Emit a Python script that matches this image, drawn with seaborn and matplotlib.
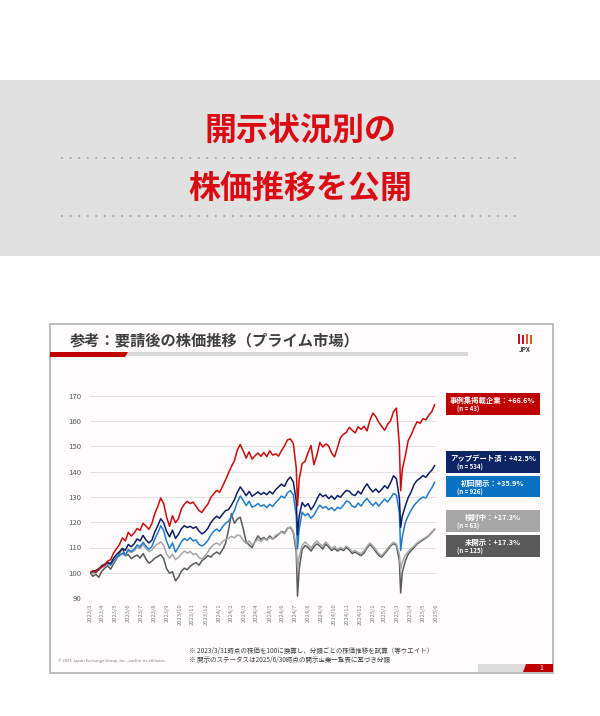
import pandas as pd
import matplotlib
matplotlib.use("Agg")
import matplotlib.pyplot as plt
from matplotlib.patches import Rectangle, Polygon
from matplotlib.lines import Line2D
import seaborn as sns

# ---------------------------------------------------------
# DATA (index: 2023/3/31 = 100, weekly + the two crash days)
# ---------------------------------------------------------
dates = pd.date_range("2023-03-31", "2025-06-27", freq="W-FRI")
dates = dates.union(pd.to_datetime(["2024-08-05", "2025-04-07"]))

jirei = [
    100.0, 100.8, 100.2, 101.5, 102.3, 103.1, 104.6, 105.2, 107.8, 109.5,
    111.2, 113.8, 112.6, 116.0, 114.5, 115.8, 117.5, 116.8, 119.6, 118.5,
    117.2, 119.5, 123.5, 126.2, 129.6, 127.4, 122.0, 118.4, 122.6, 119.8,
    121.4, 125.2, 127.1, 128.3, 127.4, 128.0, 126.3, 124.6, 123.9, 125.7,
    127.2, 129.8, 131.3, 132.6, 131.9, 134.2, 136.8, 139.5, 142.1, 144.3,
    148.6, 150.8, 148.2, 145.4, 147.9, 145.0, 146.3, 147.4, 146.1, 147.6,
    146.0, 148.3, 146.6, 147.1, 146.2, 148.4, 150.2, 152.6, 153.0, 151.2,
    141.5, 126.5, 137.0, 143.2, 144.1, 147.6, 150.4, 142.8, 146.5, 151.6,
    149.8, 151.0, 150.2, 147.4, 145.9, 149.6, 153.5, 154.8, 155.6, 157.6,
    156.4, 155.4, 157.8, 156.8, 158.0, 156.2, 160.4, 163.2, 161.8, 159.6,
    158.0, 156.4, 158.8, 160.2, 163.8, 165.2, 150.5, 132.5,
    141.0, 146.2, 152.4, 154.6, 157.4, 159.8, 159.2, 161.0, 160.6, 162.4, 163.8, 166.6,
]
update = [
    100.0, 100.6, 100.9, 101.6, 102.8, 103.4, 104.1, 103.6, 105.8, 107.2,
    108.4, 109.6, 108.9, 111.2, 110.3, 111.5, 113.4, 112.6, 114.8, 113.0,
    111.8, 112.9, 116.2, 118.6, 121.4, 119.8, 116.4, 114.2, 116.9, 113.6,
    115.2, 117.4, 118.6, 117.9, 118.4, 117.6, 118.2, 116.5, 115.4, 116.2,
    117.6, 119.8, 121.3, 122.4, 121.6, 123.2, 124.6, 125.0, 126.8, 128.9,
    131.8, 134.0, 132.4, 130.5, 132.2, 130.3, 131.1, 132.0, 131.0, 131.8,
    130.9, 132.2, 131.2, 132.9, 134.0, 135.1, 134.2, 136.6, 137.9, 136.0,
    128.5, 115.0, 122.5, 127.8, 126.2, 127.4, 125.0, 126.6, 129.1, 131.3,
    130.2, 130.8, 129.4, 130.4, 129.1, 130.6, 129.9, 131.4, 132.6, 132.3,
    131.0, 130.6, 132.3, 131.2, 133.5, 135.2, 133.4, 132.0, 133.2, 131.8,
    133.0, 134.5, 133.4, 135.6, 138.4, 137.2, 129.5, 118.0,
    122.5, 126.4, 129.8, 132.0, 135.0, 136.6, 137.4, 138.5, 137.8, 139.4, 140.6, 142.5,
]
shokai = [
    100.0, 100.4, 100.1, 101.2, 102.4, 103.0, 103.8, 103.2, 104.9, 106.2,
    106.9, 107.8, 107.0, 109.2, 108.4, 109.3, 111.0, 110.2, 112.1, 110.5,
    109.3, 110.4, 113.4, 115.8, 118.6, 116.8, 112.4, 109.6, 111.8, 108.2,
    110.0, 112.2, 113.6, 112.8, 113.9, 112.6, 113.0, 111.2, 110.6, 111.4,
    112.8, 114.9, 116.5, 117.3, 116.4, 118.2, 119.6, 120.4, 122.3, 124.6,
    128.0, 130.4, 128.6, 126.6, 128.3, 126.0, 126.5, 127.4, 126.3, 126.9,
    125.8, 127.1, 126.2, 127.8, 129.0, 130.4, 129.6, 131.6, 132.6, 130.8,
    122.6, 109.5, 117.4, 124.0, 122.6, 123.4, 121.6, 122.8, 125.0, 126.8,
    125.6, 126.2, 125.0, 125.8, 124.6, 125.9, 125.4, 126.7, 128.4, 128.0,
    126.4, 125.9, 127.6, 126.4, 128.2, 129.4, 127.8, 126.6, 127.9, 126.4,
    127.8, 129.2, 128.0, 129.6, 131.4, 130.8, 123.6, 108.8,
    114.2, 119.8, 122.6, 124.8, 126.8, 128.0, 129.2, 130.0, 129.6, 131.8, 133.6, 135.9,
]
kentou = [
    100.0, 99.6, 100.4, 101.0, 102.2, 102.6, 103.6, 102.9, 104.4, 105.8,
    106.6, 107.4, 106.8, 108.6, 108.0, 108.7, 110.2, 109.5, 111.2, 109.6,
    108.4, 109.0, 110.6, 111.4, 112.2, 110.8, 107.4, 105.8, 107.4, 105.2,
    106.0, 107.4, 108.6, 107.8, 108.4, 107.2, 107.6, 106.0, 105.4, 106.6,
    108.2, 110.0, 111.2, 111.8, 111.0, 112.4, 113.2, 113.6, 114.4, 113.8,
    115.0, 114.6, 112.8, 111.6, 112.6, 111.0, 112.2, 113.2, 112.4, 113.6,
    112.8, 114.0, 113.2, 114.8, 115.4, 116.2, 115.4, 117.4, 118.2, 116.4,
    110.6, 101.8, 106.4, 110.8, 112.2, 111.0, 109.8, 111.4, 112.6, 111.4,
    110.6, 112.2, 111.0, 109.6, 110.4, 109.2, 110.0, 109.4, 110.6, 109.6,
    108.4, 108.8, 108.0, 107.6, 108.6, 110.4, 111.8, 110.6, 109.2, 107.6,
    106.8, 108.2, 109.6, 111.0, 112.0, 111.4, 107.2, 101.4,
    104.2, 106.8, 108.4, 109.6, 110.6, 111.8, 112.6, 113.4, 114.0, 114.8, 116.2, 117.3,
]
mikaiji = [
    100.0, 98.6, 99.4, 98.2, 100.6, 101.8, 102.8, 101.4, 103.6, 105.4,
    107.8, 109.6, 106.8, 107.2, 105.6, 106.4, 107.0, 105.8, 107.6, 105.4,
    103.8, 104.6, 105.8, 106.4, 107.2, 105.6, 101.6, 99.8, 100.4, 96.8,
    98.2, 100.6, 101.8, 101.2, 102.6, 103.4, 104.0, 103.0, 104.8, 105.6,
    106.8, 106.2, 107.4, 108.2, 107.4, 109.2, 111.6, 116.8, 123.4, 119.6,
    121.2, 122.0, 117.4, 112.2, 111.0, 110.0, 112.4, 114.6, 113.2, 114.0,
    113.0, 114.6, 113.4, 114.2, 115.2, 116.4, 115.8, 117.6, 118.0, 116.0,
    108.2, 90.8, 101.6, 109.2, 110.8, 110.0, 108.6, 110.4, 111.4, 110.6,
    109.4, 111.4, 110.2, 108.8, 109.6, 108.6, 109.4, 108.8, 110.0, 109.0,
    107.6, 108.2, 107.4, 106.8, 107.8, 109.8, 111.2, 110.0, 108.4, 106.8,
    106.2, 107.6, 109.0, 110.6, 111.6, 110.8, 104.6, 92.0,
    100.2, 104.6, 107.4, 108.8, 110.0, 111.4, 112.2, 113.0, 113.8, 114.6, 116.0, 117.3,
]

groups = ["未開示", "検討中", "初回開示", "アップデート済", "事例集掲載企業"]
returns = ["+17.3%", "+17.3%", "+35.9%", "+42.5%", "+66.6%"]
counts = [125, 63, 926, 534, 43]
colors = ["#595959", "#a6a6a6", "#1f7ccc", "#0d1f66", "#cc0a0a"]
box_colors = ["#595959", "#a6a6a6", "#0a72c2", "#0e2565", "#c00000"]
series = [mikaiji, kentou, shokai, update, jirei]

for s in series:
    assert len(s) == len(dates), (len(s), len(dates))

df = pd.concat(
    [pd.DataFrame({"date": dates, "value": s, "group": g}) for g, s in zip(groups, series)],
    ignore_index=True,
)

month_ticks = pd.date_range("2023-03-31", "2025-06-30", freq="ME")
month_labels = [f"{d.year}/{d.month}" for d in month_ticks]

# ---------------------------------------------------------
# FIGURE
# ---------------------------------------------------------
sns.set_theme(style="white")
plt.rcParams["font.family"] = ["Noto Sans CJK JP", "DejaVu Sans"]

W, H = 600, 716
fig = plt.figure(figsize=(W / 100, H / 100), dpi=100)
fig.patch.set_facecolor("white")


def fx(x):
    return x / W


def fy(y):
    return 1 - y / H


def rect(x0, y0, x1, y1, **kw):
    fig.add_artist(Rectangle((fx(x0), fy(y1)), fx(x1) - fx(x0), fy(y0) - fy(y1),
                             transform=fig.transFigure, **kw))


# header banner
rect(0, 80, 600, 256, facecolor="#e1e1e1", edgecolor="none", zorder=-5)
red_title = "#dc0a14"
fig.text(0.5, fy(132), "開示状況別の", ha="center", va="center", fontsize=23,
         fontweight="bold", color=red_title)
fig.text(0.5, fy(189), "株価推移を公開", ha="center", va="center", fontsize=23,
         fontweight="bold", color=red_title)
for yy in (158, 216):
    fig.add_artist(Line2D([fx(62), fx(520)], [fy(yy), fy(yy)], transform=fig.transFigure,
                          color="#a8a8a8", lw=1.5, linestyle=(0, (0.1, 4.0)),
                          dash_capstyle="round"))

# slide frame
rect(50, 324, 553, 673, facecolor="#fefcfd", edgecolor="#bdbdbd", lw=1.4, zorder=-5)
fig.text(fx(70), fy(340), "参考：要請後の株価推移（プライム市場）", ha="left", va="center",
         fontsize=11, fontweight="bold", color="#404040")
rect(126, 352, 468, 356, facecolor="#dadada", edgecolor="none", zorder=-4)
fig.add_artist(Polygon([(fx(50), fy(352)), (fx(128), fy(352)), (fx(125), fy(357)), (fx(50), fy(357))],
                       closed=True, transform=fig.transFigure, facecolor="#c00000",
                       edgecolor="none", zorder=-3))

# JPX logo
for i, bx in enumerate([518, 522, 526, 530]):
    rect(bx, 334 + (i % 2), bx + 2.2, 344, facecolor="#c8102e" if i < 2 else "#e05a1e",
         edgecolor="none")
fig.text(fx(525), fy(350), "JPX", ha="center", va="center", fontsize=4.5,
         fontweight="bold", color="#333333")

# chart
ax = fig.add_axes([fx(90), fy(598), fx(436) - fx(90), fy(396) - fy(598)])
ax.patch.set_alpha(0)
sns.lineplot(data=df, x="date", y="value", hue="group", hue_order=groups,
             palette=colors, linewidth=1.1, legend=False, ax=ax)
ax.set_ylim(90, 170)
ax.set_yticks(range(90, 171, 10))
ax.set_xlim(month_ticks[0], month_ticks[-1])
ax.set_xticks(month_ticks)
ax.set_xticklabels(month_labels, rotation=90, fontsize=4.2, color="#7f7f7f")
ax.tick_params(axis="y", labelsize=5.6, labelcolor="#595959", length=0, pad=6)
ax.tick_params(axis="x", length=0, pad=4)
ax.grid(axis="y", color="#dcdcdc", lw=0.6)
ax.grid(axis="x", visible=False)
ax.set_xlabel("")
ax.set_ylabel("")
sns.despine(ax=ax, left=True, bottom=True)

# legend boxes (right side)
boxes = {
    "事例集掲載企業": (393, 415),
    "アップデート済": (451, 473),
    "初回開示": (476, 497),
    "検討中": (510, 532),
    "未開示": (535, 557),
}
for g, r, n, c in zip(groups, returns, counts, box_colors):
    y0, y1 = boxes[g]
    rect(446, y0, 540, y1, facecolor=c, edgecolor="none")
    fig.text(fx(493), fy(y0 + 7.5), f"{g}：{r}", ha="center", va="center",
             fontsize=5.3, fontweight="bold", color="white")
    fig.text(fx(457), fy(y0 + 16), f"(n = {n})", ha="left", va="center",
             fontsize=4.4, fontweight="bold", color="white")

# footnotes
fig.text(fx(189), fy(651), "※ 2023/3/31時点の株価を100に換算し、分類ごとの株価推移を試算（等ウエイト）",
         ha="left", va="center", fontsize=4.7, color="#404040")
fig.text(fx(189), fy(660), "※ 開示のステータスは2025/6/30時点の開示企業一覧表に基づき分類",
         ha="left", va="center", fontsize=4.7, color="#404040")
fig.text(fx(58), fy(661), "© 2025 Japan Exchange Group, Inc., and/or its affiliates",
         ha="left", va="center", fontsize=3.0, color="#7f7f7f")

# page number tab
rect(478, 664, 526, 672, facecolor="#dcdcdc", edgecolor="none")
fig.add_artist(Polygon([(fx(526), fy(664)), (fx(553), fy(664)), (fx(553), fy(672)), (fx(523), fy(672))],
                       closed=True, transform=fig.transFigure, facecolor="#c00000", edgecolor="none"))
fig.text(fx(541), fy(668), "1", ha="center", va="center", fontsize=5, color="white")

plt.savefig("out.png", dpi=100)
plt.close()
